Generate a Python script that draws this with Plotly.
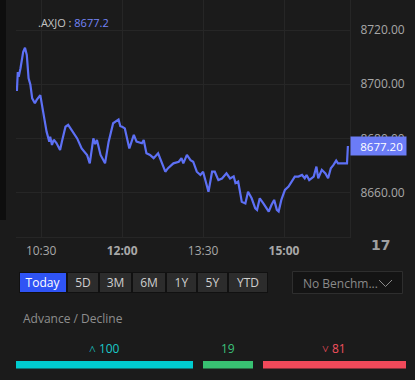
import plotly.graph_objects as go

# ---------------- data ----------------
DAY = "2025-08-14"
times = ["10:03", "10:04", "10:05", "10:07", "10:10", "10:12", "10:14", "10:16", "10:18", "10:20",
         "10:23", "10:25", "10:29", "10:33", "10:36", "10:39", "10:40", "10:42", "10:44", "10:47",
         "10:51", "10:53", "10:57", "11:00", "11:04", "11:10", "11:15", "11:21", "11:24", "11:28",
         "11:30", "11:32", "11:36", "11:41", "11:45", "11:49", "11:50", "11:56", "11:58", "12:00",
         "12:03", "12:08", "12:13", "12:16", "12:22", "12:24", "12:27", "12:31", "12:35", "12:40",
         "12:44", "12:48", "12:51", "12:57", "13:03", "13:06", "13:08", "13:12", "13:16", "13:19",
         "13:23", "13:27", "13:30", "13:34", "13:36", "13:40", "13:43", "13:47", "13:51", "13:56",
         "14:00", "14:04", "14:06", "14:09", "14:13", "14:17", "14:20", "14:24", "14:28", "14:30",
         "14:33", "14:37", "14:43", "14:46", "14:49", "14:52", "14:54", "14:57", "15:01", "15:05",
         "15:09", "15:12", "15:16", "15:20", "15:23", "15:25", "15:28", "15:33", "15:36", "15:38",
         "15:42", "15:46", "15:49", "15:52", "15:55", "15:58", "16:00", "16:10", "16:11"]
prices = [8697.5, 8704.5, 8702.8, 8705.9, 8712.0, 8713.5, 8710.8, 8702.2, 8699.8, 8694.8,
          8693.0, 8694.2, 8696.0, 8688.6, 8682.5, 8678.8, 8680.6, 8677.6, 8679.5, 8678.3,
          8675.7, 8678.8, 8684.3, 8685.0, 8683.1, 8680.0, 8676.3, 8673.9, 8670.8, 8680.0,
          8677.9, 8679.4, 8673.9, 8670.8, 8678.8, 8685.0, 8685.6, 8687.0, 8684.5, 8684.3,
          8683.7, 8676.3, 8681.3, 8678.8, 8678.2, 8679.4, 8674.5, 8673.9, 8672.7, 8674.5,
          8670.8, 8667.7, 8669.0, 8670.8, 8671.4, 8672.7, 8670.8, 8673.9, 8672.0, 8671.4,
          8667.7, 8666.5, 8667.7, 8662.2, 8660.3, 8667.7, 8667.7, 8664.6, 8665.2, 8667.1,
          8665.2, 8666.0, 8663.5, 8664.1, 8656.6, 8656.0, 8660.3, 8657.9, 8654.2, 8653.6,
          8657.9, 8656.0, 8653.0, 8655.4, 8657.3, 8653.6, 8653.0, 8657.3, 8661.0, 8662.2,
          8664.6, 8665.9, 8665.9, 8666.5, 8665.3, 8666.5, 8664.6, 8665.9, 8669.6, 8665.3,
          8668.4, 8667.1, 8665.3, 8669.0, 8670.2, 8671.8, 8670.8, 8670.8, 8677.2]

symbol = ".AXJO"
last_price = 8677.2
y_ticks = [8660, 8680, 8700, 8720]
x_tick_times = ["10:30", "12:00", "13:30", "15:00"]
x_tick_bold = [False, True, False, True]

periods = ["Today", "5D", "3M", "6M", "1Y", "5Y", "YTD"]
benchmark_label = "No Benchm..."

breadth_labels = ["Advance", "Unchanged", "Decline"]
breadth_values = [100, 19, 81]
breadth_prefix = ["˄ ", "", "˅ "]

# ---------------- style ----------------
W, H = 415, 380
BG = "#1b1b1b"
GRID = "#262626"
LINE = "#5d70f5"
BOX = "#6b7cf6"
FONT = "Open Sans"
breadth_colors = ["#00cbcf", "#38c172", "#f1495a"]
breadth_text_colors = ["#1ac8c8", "#3cc27a", "#f2505e"]
MIN_UNITS = 28     # minimum visual width of a breadth segment
GAP_UNITS = 5.6

def px(x):
    return x / W

def py(y):
    return 1 - y / H

xs = [f"{DAY} {t}" for t in times]

fig = go.Figure()
fig.add_trace(go.Scatter(x=xs, y=prices, mode="lines",
                         line=dict(color=LINE, width=2.2), hoverinfo="skip",
                         xaxis="x", yaxis="y"))

# breadth bars
bases, widths = [], []
cur = 0
for v in breadth_values:
    w = max(v, MIN_UNITS)
    bases.append(cur)
    widths.append(w)
    cur += w + GAP_UNITS
total = cur - GAP_UNITS
fig.add_trace(go.Bar(y=[0, 0, 0], x=widths, base=bases, orientation="h",
                     marker=dict(color=breadth_colors, line=dict(width=0)),
                     width=1, xaxis="x2", yaxis="y2", hoverinfo="skip"))

annotations = []
for b, w, v, pre, c in zip(bases, widths, breadth_values, breadth_prefix, breadth_text_colors):
    annotations.append(dict(x=b + w / 2, xref="x2", y=py(348), yref="paper",
                            text=f"{pre}{v}", showarrow=False,
                            font=dict(family=FONT, size=12, color=c),
                            xanchor="center", yanchor="middle"))

# title
annotations.append(dict(x=px(36), y=py(23), xref="paper", yref="paper", xanchor="left",
                        yanchor="middle", showarrow=False,
                        text=f"<span style='color:#c4c4c4'>{symbol} : </span>"
                             f"<span style='color:#7585f7'>{last_price}</span>",
                        font=dict(family=FONT, size=11)))

# last value box
annotations.append(dict(x=px(350), y=last_price, xref="paper", yref="y", xanchor="left",
                        yanchor="middle", showarrow=False, align="center",
                        text=f"  {last_price:.2f}", bgcolor=BOX, width=55, height=18,
                        borderpad=0, font=dict(family=FONT, size=11.5, color="#ffffff")))

# TV logo
annotations.append(dict(x=px(380), y=py(245), xref="paper", yref="paper", xanchor="center",
                        yanchor="middle", showarrow=False, text="<b>17</b>",
                        font=dict(family="DejaVu Sans", size=14, color="#a0a0a0")))

# period buttons
btn_edges = [19, 67, 99, 132, 166, 197, 228, 268]
for i, p in enumerate(periods):
    x0, x1 = btn_edges[i], btn_edges[i + 1]
    annotations.append(dict(x=px((x0 + x1) / 2), y=py(282.5), xref="paper", yref="paper",
                            xanchor="center", yanchor="middle", showarrow=False, text=p,
                            width=x1 - x0 - 2, height=19, borderpad=0,
                            bgcolor="#2f54f5" if i == 0 else "#2c2c2c",
                            bordercolor="#111111", borderwidth=1,
                            font=dict(family=FONT, size=12,
                                      color="#ffffff" if i == 0 else "#cfcfcf")))

# benchmark dropdown
annotations.append(dict(x=px(301), y=py(283), xref="paper", yref="paper", xanchor="left",
                        yanchor="middle", showarrow=False, text=benchmark_label,
                        font=dict(family=FONT, size=12, color="#8a8a8a")))

annotations.append(dict(x=px(21), y=py(318), xref="paper", yref="paper", xanchor="left",
                        yanchor="middle", showarrow=False, text="Advance / Decline",
                        font=dict(family=FONT, size=12, color="#8e8e8e")))

shapes = [
    dict(type="rect", xref="paper", yref="paper", x0=0, x1=px(6), y0=py(220), y1=1,
         fillcolor="#0e0e0e", line=dict(width=0), layer="below"),
    dict(type="rect", xref="paper", yref="paper", x0=px(292.5), x1=px(402.5), y0=py(293.5),
         y1=py(271.5), fillcolor="#141414", line=dict(color="#2e2e2e", width=1), layer="below"),
    dict(type="path", xref="paper", yref="paper",
         path=f"M {px(379)} {py(280)} L {px(385.5)} {py(286.5)} L {px(392)} {py(280)}",
         line=dict(color="#8a8a8a", width=1)),
    # tick mark inside the last-value label
    dict(type="line", xref="paper", yref="y", x0=px(351), x1=px(355.5),
         y0=last_price, y1=last_price, line=dict(color="#ffffff", width=1.5)),
]

tickvals = [f"{DAY} {t}" for t in x_tick_times]
ticktext = [f"<b>{t}</b>" if b else t for t, b in zip(x_tick_times, x_tick_bold)]

fig.update_layout(
    width=W, height=H, margin=dict(l=0, r=0, t=0, b=0),
    paper_bgcolor=BG, plot_bgcolor=BG, showlegend=False,
    font=dict(family=FONT, color="#a8a8a8"),
    xaxis=dict(domain=[px(16), px(350)], type="date",
               range=[f"{DAY} 10:02", f"{DAY} 16:13:20"],
               tickvals=tickvals, ticktext=ticktext,
               tickfont=dict(size=12, color="#a8a8a8"),
               ticks="outside", ticklen=3, tickcolor="rgba(0,0,0,0)",
               showgrid=True, gridcolor=GRID, gridwidth=1,
               showline=True, linecolor=GRID, mirror=False, zeroline=False,
               anchor="y", fixedrange=True),
    yaxis=dict(domain=[py(237), 1], range=[8643.6, 8731.1], side="right",
               tickvals=y_ticks, ticktext=[f"{v:.2f}" for v in y_ticks],
               tickfont=dict(size=12, color="#a8a8a8"),
               ticks="outside", ticklen=7, tickcolor="rgba(0,0,0,0)",
               showgrid=True, gridcolor=GRID, gridwidth=1,
               showline=True, linecolor=GRID, zeroline=False,
               anchor="x", fixedrange=True),
    xaxis2=dict(domain=[px(16), px(406)], range=[0, total], visible=False,
                anchor="y2", fixedrange=True),
    yaxis2=dict(domain=[py(368.5), py(360.5)], range=[-0.5, 0.5], visible=False,
                anchor="x2", fixedrange=True),
    annotations=annotations, shapes=shapes, bargap=0,
)

fig.write_html("out.html", config={"displayModeBar": False},
               post_script="document.body.style.margin='0';"
                           "document.body.style.background='#1b1b1b';")
